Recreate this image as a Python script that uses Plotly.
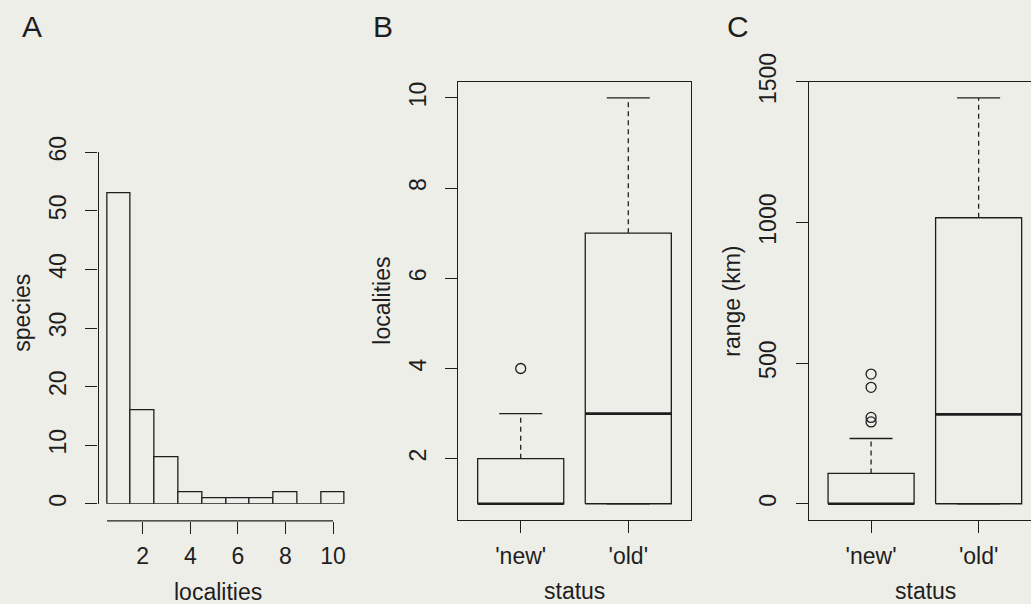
import plotly.graph_objects as go

W, H = 1031, 604
BG = "#eeeee8"
INK = "#1e1e1e"
FONT = "Liberation Sans, Arial, Helvetica, sans-serif"

# ---------------- data ----------------
# Panel A: histogram of localities per species
hist_centers = [1, 2, 3, 4, 5, 6, 7, 8, 9, 10]
hist_counts = [53, 16, 8, 2, 1, 1, 1, 2, 0, 2]
hist_xticks = [2, 4, 6, 8, 10]
hist_yticks = [0, 10, 20, 30, 40, 50, 60]

# Panels B and C: boxplots by status
status = ["'new'", "'old'"]
status_pos = [1, 2]

loc_lower = [1, 1]
loc_q1 = [1, 1]
loc_median = [1, 3]
loc_q3 = [2, 7]
loc_upper = [3, 10]
loc_outliers = [[4], []]
loc_yticks = [2, 4, 6, 8, 10]

rng_lower = [0, 0]
rng_q1 = [0, 0]
rng_median = [0, 318]
rng_q3 = [108, 1017]
rng_upper = [232, 1443]
rng_outliers = [[461, 414, 307, 291], []]
rng_yticks = [0, 500, 1000, 1500]


def fx(p):
    return p / W


def fy(p):
    return 1 - p / H


def r_range(vals):
    lo, hi = min(vals), max(vals)
    pad = 0.04 * (hi - lo)
    return [lo - pad, hi + pad]


fig = go.Figure()

# ---- Panel A histogram ----
fig.add_trace(go.Bar(
    x=hist_centers, y=hist_counts, width=1,
    marker=dict(color=BG, line=dict(color=INK, width=1.3)),
    xaxis="x", yaxis="y", showlegend=False, hoverinfo="x+y",
))


def add_boxes(xa, ya, lower, q1, med, q3, upper, outliers, boxwex=0.8):
    bx, by, mx, my, wx, wy, cx, cy, ox, oy = [], [], [], [], [], [], [], [], [], []
    for i, p in enumerate(status_pos):
        a, b = p - boxwex / 2, p + boxwex / 2
        bx += [a, b, b, a, a, None]
        by += [q1[i], q1[i], q3[i], q3[i], q1[i], None]
        mx += [a, b, None]
        my += [med[i], med[i], None]
        wx += [p, p, None, p, p, None]
        wy += [q3[i], upper[i], None, q1[i], lower[i], None]
        ca, cb = p - boxwex / 4, p + boxwex / 4
        cx += [ca, cb, None, ca, cb, None]
        cy += [upper[i], upper[i], None, lower[i], lower[i], None]
        for o in outliers[i]:
            ox.append(p)
            oy.append(o)
    common = dict(xaxis=xa, yaxis=ya, showlegend=False, hoverinfo="skip")
    fig.add_trace(go.Scatter(x=wx, y=wy, mode="lines",
                             line=dict(color=INK, width=1.3, dash="5px,4px"), **common))
    fig.add_trace(go.Scatter(x=cx, y=cy, mode="lines",
                             line=dict(color=INK, width=1.3), **common))
    fig.add_trace(go.Scatter(x=bx, y=by, mode="lines", fill="toself", fillcolor=BG,
                             line=dict(color=INK, width=1.3), **common))
    fig.add_trace(go.Scatter(x=mx, y=my, mode="lines",
                             line=dict(color=INK, width=2.6), **common))
    fig.add_trace(go.Scatter(x=ox, y=oy, mode="markers",
                             marker=dict(symbol="circle-open", size=10, color=INK,
                                         line=dict(width=1.3)), **common))


add_boxes("x2", "y2", loc_lower, loc_q1, loc_median, loc_q3, loc_upper, loc_outliers)
add_boxes("x3", "y3", rng_lower, rng_q1, rng_median, rng_q3, rng_upper, rng_outliers)

tickfont = dict(family=FONT, size=23, color=INK)
axis_common = dict(showgrid=False, zeroline=False, ticks="outside", ticklen=12,
                   tickwidth=1.2, tickcolor=INK, linecolor=INK, linewidth=1.3,
                   tickfont=tickfont, automargin=False)

# x extents of the boxplot panels in R style (0.5..2.5 padded by 4%)
bx_lo, bx_hi = 0.5 - 0.08, 2.5 + 0.08
c_left_px, c_right_px = 808.7, 1041.0
c_hi = bx_lo + (bx_hi - bx_lo) * (W - c_left_px) / (c_right_px - c_left_px)

fig.update_layout(
    width=W, height=H, margin=dict(l=0, r=0, t=0, b=0, autoexpand=False),
    paper_bgcolor=BG, plot_bgcolor=BG, bargap=0,
    font=dict(family=FONT, size=23, color=INK),
    xaxis=dict(domain=[fx(97.5), fx(354.5)], range=[0.1, 10.9], tickvals=hist_xticks,
               anchor="free", position=fy(520.8), showline=False,
               ticklabelstandoff=3, **axis_common),
    yaxis=dict(domain=[fy(503.8), fy(152.2)], range=[hist_yticks[0], hist_yticks[-1]],
               tickvals=hist_yticks, anchor="free", position=fx(97.5), showline=True,
               tickangle=-90, ticklabelstandoff=10, **axis_common),
    xaxis2=dict(domain=[fx(458.3), fx(690.7)], range=[bx_lo, bx_hi], tickvals=status_pos,
                ticktext=status, anchor="y2", showline=True, mirror=True,
                ticklabelstandoff=3, **axis_common),
    yaxis2=dict(domain=[fy(520), fy(81.7)], range=r_range(loc_lower + loc_upper + sum(loc_outliers, [])),
                tickvals=loc_yticks, anchor="x2", showline=True, mirror=True,
                tickangle=-90, ticklabelstandoff=10, **axis_common),
    xaxis3=dict(domain=[fx(c_left_px), 1.0], range=[bx_lo, c_hi], tickvals=status_pos,
                ticktext=status, anchor="y3", showline=True, mirror=True,
                ticklabelstandoff=3, **axis_common),
    yaxis3=dict(domain=[fy(520), fy(81.7)], range=r_range(rng_lower + rng_upper + sum(rng_outliers, [])),
                tickvals=rng_yticks, anchor="x3", showline=True, mirror=False,
                tickangle=-90, ticklabelstandoff=10, **axis_common),
)

# x-axis line of the histogram (R style: not joined to the y axis)
fig.add_shape(type="line", xref="x", yref="paper",
              x0=hist_centers[0] - 0.5, x1=hist_xticks[-1], y0=fy(520.8), y1=fy(520.8),
              line=dict(color=INK, width=1.3))

ann = []
title_font = dict(family=FONT, size=23, color=INK)
letter_font = dict(family=FONT, size=30, color=INK)
for txt, x, y in [("A", 31.7, 27), ("B", 383, 27), ("C", 738, 27)]:
    ann.append(dict(text=txt, x=fx(x), y=fy(y), xref="paper", yref="paper",
                    showarrow=False, font=letter_font, xanchor="center", yanchor="middle"))
for txt, x, y in [("localities", 218, 592), ("status", 574.5, 591), ("status", 925, 591)]:
    ann.append(dict(text=txt, x=fx(x), y=fy(y), xref="paper", yref="paper",
                    showarrow=False, font=title_font, xanchor="center", yanchor="middle"))
for txt, x, y in [("species", 21.7, 313), ("localities", 381.7, 301), ("range (km)", 731.7, 301)]:
    ann.append(dict(text=txt, x=fx(x), y=fy(y), xref="paper", yref="paper", textangle=-90,
                    showarrow=False, font=title_font, xanchor="center", yanchor="middle"))
fig.update_layout(annotations=ann)

fig.write_html(
    "out.html",
    config={"displayModeBar": False},
    post_script="document.body.style.margin='0px';document.body.style.overflow='hidden';",
)
